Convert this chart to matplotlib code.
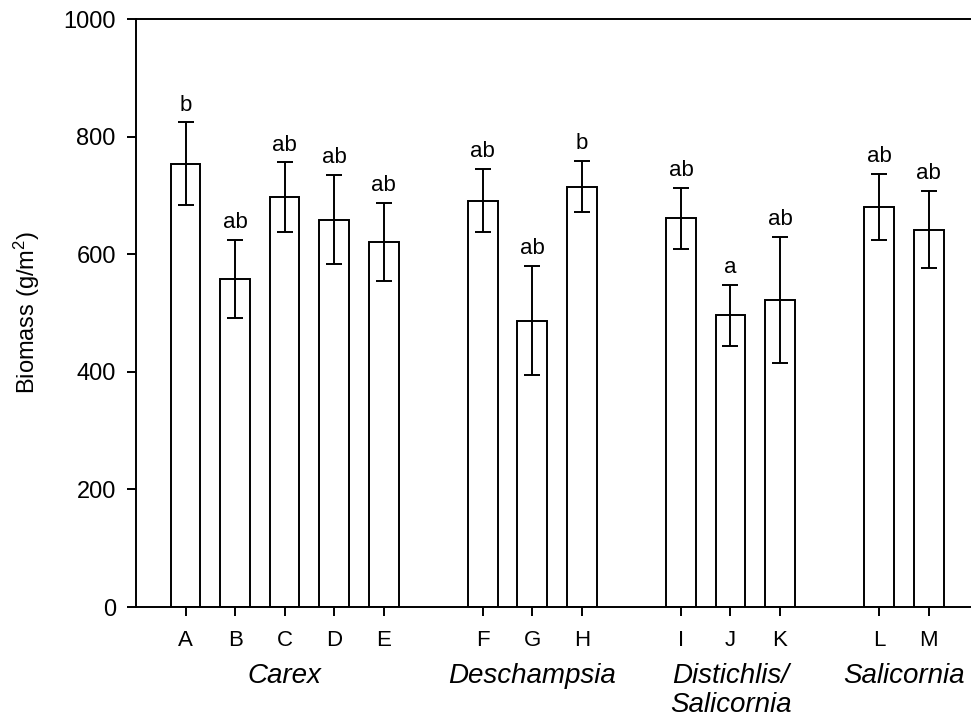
import matplotlib
matplotlib.use("Agg")
import numpy as np
from matplotlib import pyplot as plt

plt.rcParams['font.family'] = ['Liberation Sans', 'DejaVu Sans']
plt.rcParams['mathtext.fontset'] = 'custom'
plt.rcParams['mathtext.rm'] = 'Liberation Sans'
plt.rcParams['mathtext.default'] = 'regular'

# Data
treatments = ['A', 'B', 'C', 'D', 'E', 'F', 'G', 'H', 'I', 'J', 'K', 'L', 'M']
biomass = [754, 558, 697, 659, 621, 691, 487, 715, 661, 496, 522, 680, 642]
biomass_se = [70, 66, 59, 76, 66, 54, 93, 44, 52, 52, 107, 56, 65]
letters = ['b', 'ab', 'ab', 'ab', 'ab', 'ab', 'ab', 'b', 'ab', 'a', 'ab', 'ab', 'ab']
groups = ['Carex', 'Deschampsia', 'Distichlis/\nSalicornia', 'Salicornia']
group_sizes = [5, 3, 3, 2]

# x positions: one empty slot between groups
x = []
group_centres = []
pos = 0
for n in group_sizes:
    xs = list(range(pos, pos + n))
    x += xs
    group_centres.append(np.mean(xs))
    pos += n + 1
x = np.array(x, dtype=float)

fig = plt.figure()
fig.set_size_inches(9.71, 7.17)
ax = fig.add_axes([136/971, 110/717, 835/971, 588/717])

lw = 1.4
ax.bar(x, biomass, width=0.6, color='white', edgecolor='black', linewidth=lw, zorder=2)
ax.errorbar(x, biomass, yerr=biomass_se, fmt='none', ecolor='black',
            elinewidth=lw, capsize=5.5, capthick=lw, zorder=3)

for xi, v, e, s in zip(x, biomass, biomass_se, letters):
    ax.annotate(s, xy=(xi, v + e), xytext=(0, 8.6), textcoords='offset points',
                ha='center', va='baseline', fontsize=16)

for c, g in zip(group_centres, groups):
    for i, line in enumerate(g.split('\n')):
        ax.annotate(line, xy=(c, 0), xycoords=('data', 'axes fraction'),
                    xytext=(0, -54.5 - 21 * i), textcoords='offset points',
                    ha='center', va='baseline', fontsize=20, style='italic',
                    annotation_clip=False)

ax.set_xlim(-1, 15.855)
ax.set_ylim(0, 1000)
ax.set_xticks(x)
ax.set_xticklabels(treatments)
ax.set_yticks(np.arange(0, 1001, 200))
ax.tick_params(axis='both', direction='out', length=6.5, width=lw)
ax.tick_params(axis='x', pad=10, labelsize=16)
ax.tick_params(axis='y', pad=8, labelsize=17)
ax.set_ylabel('Biomass (g/m$^2$)', fontsize=17)
ax.yaxis.set_label_coords(-0.112, 0.5)

ax.spines['right'].set_visible(False)
for sp in ['left', 'bottom', 'top']:
    ax.spines[sp].set_linewidth(lw)

plt.savefig('out.png', dpi=100)
